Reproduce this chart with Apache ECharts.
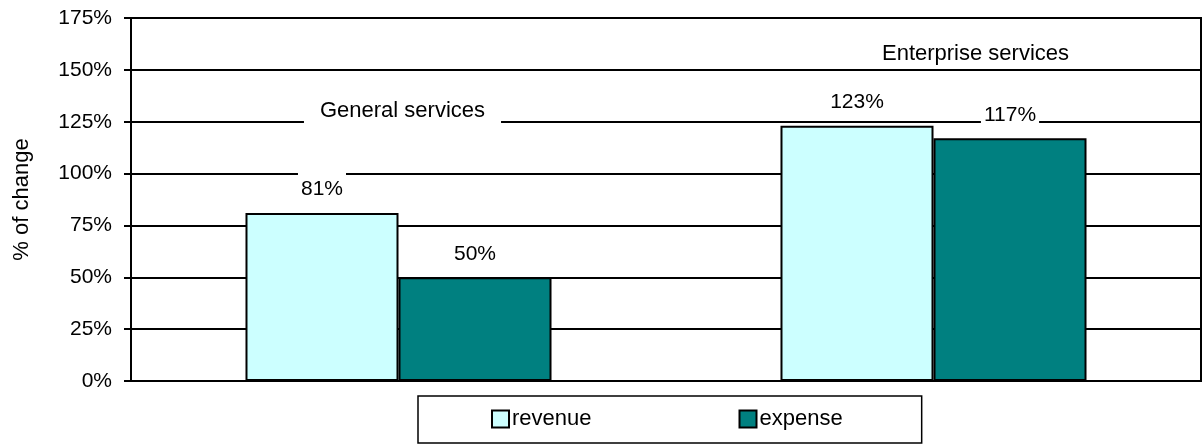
<!DOCTYPE html>
<html>
<head>
<meta charset="utf-8">
<title>% of change by service</title>
<script src="https://cdn.jsdelivr.net/npm/echarts@6/dist/echarts.min.js"></script>
<style>
  html, body { margin: 0; padding: 0; background: #fff; }
  #chart { width: 1202px; height: 444px; }
</style>
</head>
<body>
<div id="chart"></div>
<script>
// Service categories and percent change per series
const categories = ['General services', 'Enterprise services'];
const revenue = [81, 123];
const expense = [50, 117];
const yTicks = { min: 0, max: 175, step: 25 };

const FONT = '"Liberation Sans", Arial, sans-serif';

const chart = echarts.init(document.getElementById('chart'), null, { renderer: 'canvas' });

const valueLabel = {
  show: true,
  position: 'top',
  distance: 10,
  formatter: '{c}%',
  color: '#000',
  fontFamily: FONT,
  fontSize: 21,
  backgroundColor: '#fff',
  padding: [8, 3, 3, 3]
};

chart.setOption({
  animation: false,
  backgroundColor: '#fff',
  textStyle: { fontFamily: FONT, color: '#000' },
  grid: {
    left: 131, right: 1, top: 18, bottom: 63,
    show: true, borderColor: '#000', borderWidth: 2
  },
  legend: {
    data: ['revenue', 'expense'],
    left: 418, bottom: 1,
    padding: [12, 79, 13, 73],
    borderColor: '#000', borderWidth: 1.5,
    itemWidth: 17, itemHeight: 17, itemGap: 147,
    icon: 'rect',
    textStyle: { fontFamily: FONT, fontSize: 22, lineHeight: 17, color: '#000', padding: [0, 0, 0, -2] }
  },
  xAxis: {
    type: 'category',
    data: categories,
    axisLine: { show: true, lineStyle: { color: '#000', width: 2 } },
    axisTick: { show: false },
    axisLabel: { show: false },
    splitLine: { show: false }
  },
  yAxis: {
    type: 'value',
    min: yTicks.min, max: yTicks.max, interval: yTicks.step,
    name: '% of change',
    nameLocation: 'middle',
    nameGap: 98,
    nameTextStyle: { fontFamily: FONT, fontSize: 22, color: '#000' },
    axisLine: { show: true, lineStyle: { color: '#000', width: 2 } },
    axisTick: { show: true, length: 7, lineStyle: { color: '#000', width: 2 } },
    axisLabel: { formatter: '{value}%', margin: 19, fontFamily: FONT, fontSize: 21, color: '#000' },
    splitLine: { show: true, lineStyle: { color: '#000', width: 2 } }
  },
  series: [
    {
      name: 'revenue', type: 'bar', data: revenue,
      barGap: 0, barCategoryGap: '42.8%',
      itemStyle: { color: '#CCFFFF', borderColor: '#000', borderWidth: 2 },
      label: valueLabel, z: 3
    },
    {
      name: 'expense', type: 'bar', data: expense,
      barGap: 0, barCategoryGap: '42.8%',
      itemStyle: { color: '#008080', borderColor: '#000', borderWidth: 2 },
      label: valueLabel, z: 3
    },
    {
      // category captions floating above each bar group
      name: 'captions', type: 'scatter', symbolSize: 0, z: 4,
      silent: true,
      itemStyle: { opacity: 1 },
      data: [
        { value: [0, 130.2], label: { offset: [4, 0], padding: [4, 16, 4, 16] } },
        { value: [1, 157.6], label: { offset: [42, 0], padding: [2, 16, 0, 16] } }
      ],
      label: {
        show: true, position: 'inside',
        formatter: p => categories[p.dataIndex],
        color: '#000', opacity: 1, fontFamily: FONT, fontSize: 22,
        backgroundColor: '#fff'
      }
    }
  ]
});
</script>
</body>
</html>
